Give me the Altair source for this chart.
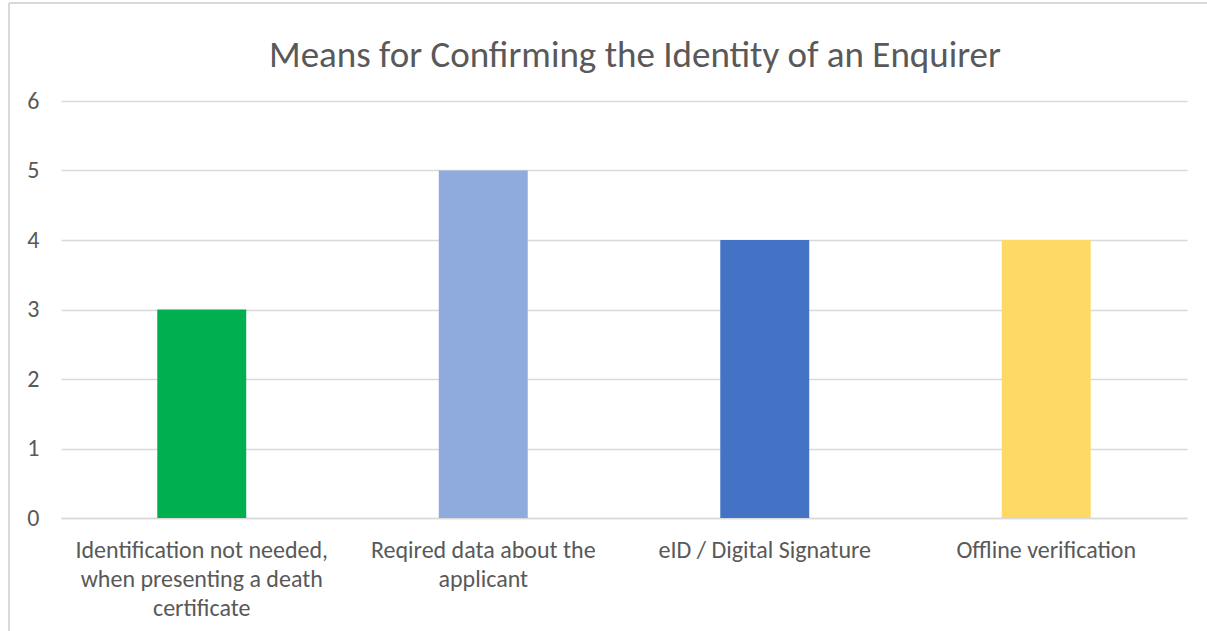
import altair as alt
import pandas as pd

title_text = "Means for Confirming the Identity of an Enquirer"
label_lines = [
    ["Identification not needed,", "when presenting a death", "certificate"],
    ["Reqired data about the", "applicant"],
    ["eID / Digital Signature"],
    ["Offline verification"],
]
categories = [" ".join(l) for l in label_lines]
values = [3, 5, 4, 4]
colors = ["#00B050", "#8FAADC", "#4472C4", "#FFD966"]
y_ticks = [0, 1, 2, 3, 4, 5, 6]

df = pd.DataFrame({"category": categories, "value": values})

# label expression splitting each category into its display lines
expr = "datum.label"
for full, lines in reversed(list(zip(categories, label_lines))):
    arr = "[" + ",".join("'" + s + "'" for s in lines) + "]"
    expr = f"datum.label == '{full}' ? {arr} : ({expr})"

FONT = "Carlito, Lato"
TXT = "#595959"
GRID = "#D9D9D9"

bars = alt.Chart(df).mark_bar().encode(
    x=alt.X(
        "category:N",
        sort=categories,
        title=None,
        scale=alt.Scale(paddingInner=0.684, paddingOuter=0.342),
        axis=alt.Axis(
            labelAngle=0,
            labelExpr=expr,
            labelFontSize=24,
            labelFont=FONT,
            labelColor=TXT,
            labelLineHeight=29,
            labelPadding=20,
            labelLimit=400,
            ticks=False,
            domain=True,
            domainColor=GRID,
            domainWidth=1.5,
            grid=False,
        ),
    ),
    y=alt.Y(
        "value:Q",
        title=None,
        scale=alt.Scale(domain=[0, 6]),
        axis=alt.Axis(
            values=y_ticks,
            labelFontSize=24,
            labelFont=FONT,
            labelColor=TXT,
            labelPadding=22,
            ticks=False,
            domain=False,
            grid=True,
            gridColor=GRID,
            gridWidth=1.5,
        ),
    ),
    color=alt.Color(
        "category:N",
        sort=categories,
        scale=alt.Scale(domain=categories, range=colors),
        legend=None,
    ),
)

border_left = alt.Chart(df).mark_rule(color=GRID, strokeWidth=2).encode(
    x=alt.value(-52), y=alt.value(-98), y2=alt.value(560)
)
border_top = alt.Chart(df).mark_rule(color=GRID, strokeWidth=2).encode(
    x=alt.value(-52), x2=alt.value(1200), y=alt.value(-98)
)

chart = alt.layer(border_left, border_top, bars).properties(
    width=1126,
    height=417,
    background="white",
    title=alt.TitleParams(
        text=title_text,
        fontSize=37,
        font=FONT,
        fontWeight="normal",
        color=TXT,
        anchor="middle",
        frame="group",
        baseline="bottom",
        offset=-110,
        dx=11,
    ),
    autosize=alt.AutoSizeParams(type="none"),
    padding={"left": 61, "top": 101, "right": 20, "bottom": 113},
).configure_view(strokeWidth=0, stroke="transparent")

chart.save("out.html", embed_options={"renderer": "svg", "actions": False})
